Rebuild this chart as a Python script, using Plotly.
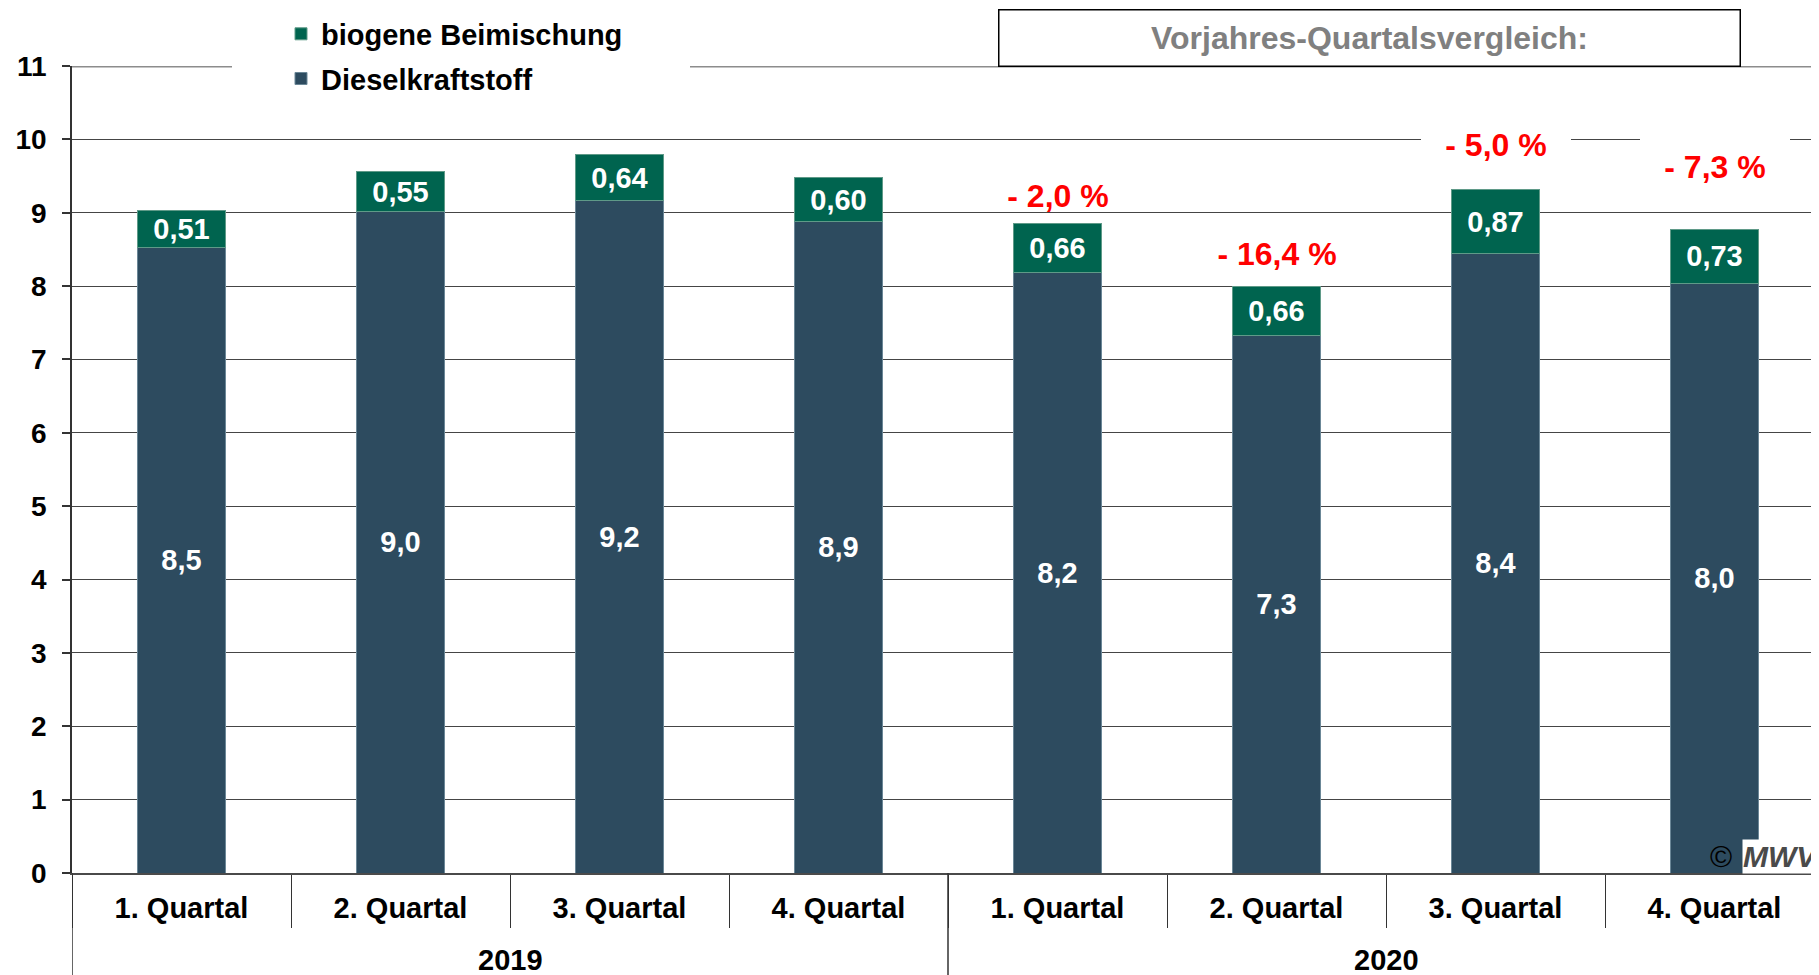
import plotly.graph_objects as go

years = ["2019"] * 4 + ["2020"] * 4
quarters = ["1. Quartal", "2. Quartal", "3. Quartal", "4. Quartal"] * 2
diesel = [8.52, 9.01, 9.16, 8.88, 8.19, 7.33, 8.44, 8.04]
bio = [0.51, 0.55, 0.64, 0.60, 0.66, 0.66, 0.87, 0.73]
yoy_change = [-2.0, -16.4, -5.0, -7.3]  # 2020 vs 2019, per quarter

# label placement / styling (not data)
yoy_shift_px = [28, 33, 45, 63]
yoy_bg = ["rgba(0,0,0,0)", "rgba(0,0,0,0)", "white", "white"]

FONT = "Arial, Liberation Sans, sans-serif"
C_DIESEL = "#2d4b5f"
C_BIO = "#00644f"

# page body has an 8px default margin -> figure drawn from (8, 8)
OFF = 8
W, H = 1819 - OFF, 975 - OFF
ML, MR, MT, MB = 72 - OFF, 0, 66 - OFF, 102
PW, PH = W - ML - MR, H - MT - MB


def px_x(sx):  # screen x -> paper fraction
    return (sx - OFF - ML) / PW


def px_y(sy):  # screen y -> paper fraction
    return (H - MB - (sy - OFF)) / PH


cats = [f"{y} {q}" for y, q in zip(years, quarters)]

fig = go.Figure()
fig.add_trace(go.Bar(
    x=cats, y=diesel, name="Dieselkraftstoff", legendgroup="d", legendrank=2,
    marker=dict(color=C_DIESEL, line=dict(color="#6b8797", width=1)),
    texttemplate="%{y:.1f}", textposition="inside", insidetextanchor="middle",
    constraintext="none",
    textfont=dict(family=FONT, size=29, color="white", weight="bold"),
    hoverinfo="skip",
))
fig.add_trace(go.Bar(
    x=cats, y=bio, name="biogene Beimischung", legendgroup="b", legendrank=1,
    marker=dict(color=C_BIO, line=dict(color="#5f9a88", width=1)),
    texttemplate="%{y:.2f}", textposition="inside", insidetextanchor="middle",
    constraintext="none",
    textfont=dict(family=FONT, size=29, color="white", weight="bold"),
    hoverinfo="skip",
))

annotations = []
shapes = []
n_prev = 4
for i, ch in enumerate(yoy_change):
    j = n_prev + i
    total = diesel[j] + bio[j]
    txt = ("- " if ch < 0 else "+ ") + f"{abs(ch):.1f}".replace(".", ",") + " %"
    annotations.append(dict(
        x=cats[j], y=total, xref="x", yref="y", text=txt, showarrow=False,
        yanchor="middle", yshift=yoy_shift_px[i], width=150, height=58,
        bgcolor=yoy_bg[i], borderpad=0, borderwidth=0,
        font=dict(family=FONT, size=32, color="#ff0000", weight="bold"),
    ))

# year group labels + group dividers (derived from the years list)
for yr in dict.fromkeys(years):
    idx = [k for k, v in enumerate(years) if v == yr]
    annotations.append(dict(
        x=sum(idx) / len(idx), y=px_y(960), xref="x", yref="paper",
        text=yr, showarrow=False, xanchor="center", yanchor="middle",
        font=dict(family=FONT, size=29, color="black", weight="bold"),
    ))
    shapes.append(dict(
        type="line", xref="x", yref="paper", x0=idx[0] - 0.5, x1=idx[0] - 0.5,
        y0=0, y1=-(MB + 5) / PH, line=dict(color="#333333", width=1.5),
    ))

# title box
annotations.append(dict(
    x=px_x(1369), y=px_y(37.5), xref="paper", yref="paper",
    text="Vorjahres-Quartalsvergleich:", showarrow=False,
    width=740, height=55, bgcolor="white", bordercolor="#000000",
    borderwidth=1.5, borderpad=0, xanchor="center", yanchor="middle",
    font=dict(family=FONT, size=32, color="#808080", weight="bold"),
))
# copyright mark
annotations.append(dict(
    x=px_x(1721), y=px_y(856), xref="paper", yref="paper",
    text="©", showarrow=False, xanchor="center", yanchor="middle",
    font=dict(family=FONT, size=30, color="#000000"),
))
annotations.append(dict(
    x=px_x(1742), y=px_y(856), xref="paper", yref="paper",
    text="<i>MWV</i>", showarrow=False, xanchor="left", yanchor="middle",
    bgcolor="white", borderpad=0,
    font=dict(family=FONT, size=30, color="#4a4a4a", weight="bold"),
))

# top frame line at 11 (gray), interrupted behind the legend
shapes.append(dict(type="line", xref="paper", yref="y", x0=px_x(600), x1=px_x(690),
                   y0=11, y1=11, line=dict(color="white", width=4), layer="above"))
shapes.append(dict(type="line", xref="paper", yref="y", x0=0, x1=px_x(232),
                   y0=11, y1=11, line=dict(color="#8c8c8c", width=3), layer="above"))
shapes.append(dict(type="line", xref="paper", yref="y", x0=px_x(690), x1=1,
                   y0=11, y1=11, line=dict(color="#8c8c8c", width=3), layer="above"))

fig.update_layout(
    width=W, height=H,
    margin=dict(l=ML, r=MR, t=MT, b=MB, autoexpand=False),
    paper_bgcolor="white", plot_bgcolor="white",
    barmode="stack", bargap=0.6,
    separators=",.",
    font=dict(family=FONT, size=27, color="black"),
    showlegend=True,
    legend=dict(
        x=px_x(232), y=1.0713, xanchor="left", yanchor="top",
        xref="paper", yref="paper",
        bgcolor="white", borderwidth=0,
        traceorder="grouped", tracegroupgap=4,
        itemwidth=30, indentation=49,
        font=dict(family=FONT, size=29, color="black", weight="bold"),
    ),
    annotations=annotations,
    shapes=shapes,
)

fig.update_yaxes(
    range=[0, 11], dtick=1, tick0=0,
    showgrid=True, gridcolor="#454545", gridwidth=1,
    zeroline=False,
    showline=True, linecolor="#333333", linewidth=1.5,
    ticks="outside", ticklen=8, tickcolor="#333333", tickwidth=1.5,
    ticklabelstandoff=10,
    tickfont=dict(family=FONT, size=28, color="black", weight="bold"),
)
fig.update_xaxes(
    type="category",
    range=[-0.5, -0.5 + PW / 219],
    tickmode="array", tickvals=cats, ticktext=quarters,
    showline=True, linecolor="#4a4a4a", linewidth=2,
    ticks="outside", ticklen=53, tickcolor="#333333", tickwidth=1,
    tickson="boundaries",
    ticklabelstandoff=8,
    tickfont=dict(family=FONT, size=29, color="black", weight="bold"),
)

fig.write_html("out.html")
